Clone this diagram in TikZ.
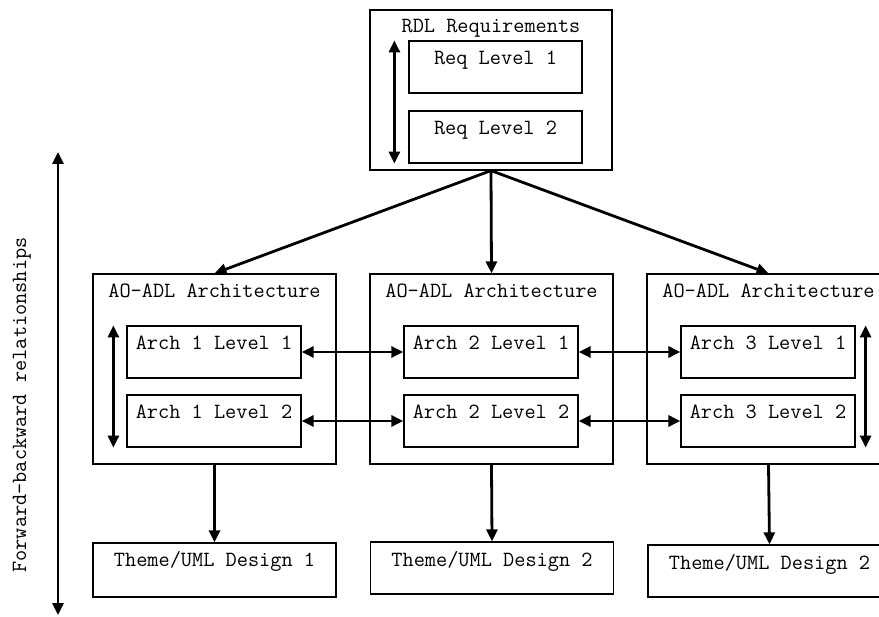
\documentclass[tikz,border=0pt]{standalone}
\usepackage{fontspec}
\usetikzlibrary{arrows.meta,positioning}

\begin{document}
\begin{tikzpicture}[x=1pt,y=-1pt]
    \clip (0,0) rectangle (879,617);
    \tikzset{BoxStyle/.style={draw, line width=1.2pt, inner sep=0pt, font=\ttfamily\fontsize{21.7}{24}\selectfont, text height=24pt}}
    \tikzset{FrameStyle/.style={BoxStyle, minimum width=243, text depth=#1}}
    \tikzset{LevelStyle/.style={BoxStyle, minimum width=174, text depth=28pt}}
    \tikzset{EdgeStyle/.style={-{Triangle[length=12pt,width=11pt]}, line width=2.8pt}}
    \tikzset{BothStyle/.style={{Triangle[length=12pt,width=11pt]}-{Triangle[length=12pt,width=11pt]}, line width=2.8pt}}

    \node[BoxStyle, minimum width=242, text height=23pt, text depth=137pt] (RDL) at (491,90) {RDL Requirements};
    \node[LevelStyle, minimum width=173] (R1) at (495.5,67) {Req Level 1};
    \node[LevelStyle, minimum width=173] (R2) at (495.5,137) {Req Level 2};

    \node[FrameStyle=166pt] (A) at (214.5,369) {AO-ADL Architecture};
    \node[FrameStyle=166pt] (B) at (491.5,369) {AO-ADL Architecture};
    \node[FrameStyle=166pt] (C) at (768.5,369) {AO-ADL Architecture};

    \node[LevelStyle] (A1) at (214,352) {Arch 1 Level 1};
    \node[LevelStyle] (A2) at (214,421) {Arch 1 Level 2};
    \node[LevelStyle] (B1) at (491,352) {Arch 2 Level 1};
    \node[LevelStyle] (B2) at (491,421) {Arch 2 Level 2};
    \node[LevelStyle] (C1) at (768,352) {Arch 3 Level 1};
    \node[LevelStyle] (C2) at (768,421) {Arch 3 Level 2};

    \node[FrameStyle=30pt] (DA) at (214.5,570) {Theme/UML Design 1};
    \node[FrameStyle=28pt] (DB) at (492,568) {Theme/UML Design 2};
    \node[FrameStyle=28pt] (DC) at (769.5,571) {Theme/UML Design 2};

    \node[rotate=90, font=\ttfamily\fontsize{21.7}{24}\selectfont] (FB) at (22,405) {Forward-backward relationships};
    \coordinate (FBtop) at (58,152);
    \coordinate (FBbot) at (58,615);

    \draw[EdgeStyle] (RDL.south) -- (A.north);
    \draw[EdgeStyle] (RDL.south) -- (B.north);
    \draw[EdgeStyle] (RDL.south) -- (C.north);

    \draw[EdgeStyle] (A.south) -- (DA.north);
    \draw[EdgeStyle] (B.south) -- (DB.north);
    \draw[EdgeStyle] (C.south) -- (DC.north);

    \draw[BothStyle] (A1.east) -- (B1.west);
    \draw[BothStyle] (B1.east) -- (C1.west);
    \draw[BothStyle] (A2.east) -- (B2.west);
    \draw[BothStyle] (B2.east) -- (C2.west);

    \draw[BothStyle] ([xshift=-14]R1.north west) -- ([xshift=-14]R2.south west);
    \draw[BothStyle] ([xshift=-13]A1.north west) -- ([xshift=-13]A2.south west);
    \draw[BothStyle] ([xshift=10]C1.north east) -- ([xshift=10]C2.south east);
    \draw[BothStyle] (FBtop) -- (FBbot);
\end{tikzpicture}
\end{document}
